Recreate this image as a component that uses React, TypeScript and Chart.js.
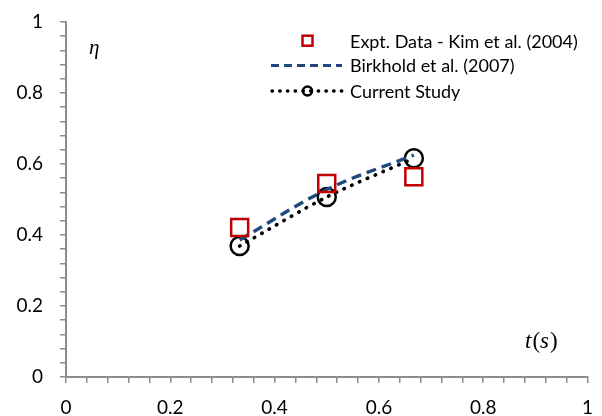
import React, { useEffect, useRef } from 'react';
import { Chart, registerables } from 'chart.js';

Chart.register(...registerables);

// ---- data ----
const timeValues = [0.333, 0.5, 0.667];
const exptEta = [0.421, 0.545, 0.564];
const birkholdEta = [0.386, 0.528, 0.625];
const currentEta = [0.369, 0.507, 0.616];
const seriesLabels = ['Expt. Data - Kim et al. (2004)', 'Birkhold et al. (2007)', 'Current Study'];
const axisMin = 0;
const axisMax = 1;
const majorStep = 0.2;
const minorStep = 0.04;
const yTitle = 'η';
const xTitleVar = 't';
const xTitleUnit = 's';

const RED = '#c00000';
const BLUE = '#1f497d';
const BLACK = '#000000';
const AXIS = '#8c8c8c';
const TICK_FONT = 'Lato, "Open Sans", sans-serif';

const minorTicks: number[] = [];
for (let i = 0; i <= Math.round((axisMax - axisMin) / minorStep); i++) {
  minorTicks.push(+(axisMin + i * minorStep).toFixed(4));
}

const isMajor = (v: number) => Math.abs(v / majorStep - Math.round(v / majorStep)) < 1e-6;
const fmt = (v: number) => String(+(Math.round(v / majorStep) * majorStep).toFixed(2));

const overlayPlugin = {
  id: 'overlay',
  afterDraw(chart: any) {
    const ctx: CanvasRenderingContext2D = chart.ctx;
    ctx.save();
    // axis titles
    ctx.fillStyle = BLACK;
    ctx.textBaseline = 'middle';
    ctx.textAlign = 'left';
    ctx.font = 'italic 21px "Liberation Serif", serif';
    ctx.fillText(yTitle, 89, 48);
    let x = 525;
    const ty = 342;
    ctx.font = 'italic 23px "Liberation Serif", serif';
    ctx.fillText(xTitleVar, x, ty);
    x += ctx.measureText(xTitleVar).width + 1;
    ctx.font = '23px "Liberation Serif", serif';
    ctx.fillText('(', x, ty);
    x += ctx.measureText('(').width;
    ctx.font = 'italic 23px "Liberation Serif", serif';
    ctx.fillText(xTitleUnit, x, ty);
    x += ctx.measureText(xTitleUnit).width + 1;
    ctx.font = '23px "Liberation Serif", serif';
    ctx.fillText(')', x, ty);

    // legend
    const rows = [40.7, 65.5, 91];
    const textX = 350;
    const sx0 = 271;
    const sx1 = 342;
    const mx = 307.5;
    // row 1: square
    ctx.strokeStyle = RED;
    ctx.lineWidth = 2.5;
    ctx.strokeRect(mx - 5, rows[0] - 5, 10, 10);
    // row 2: dashed
    ctx.strokeStyle = BLUE;
    ctx.lineWidth = 3;
    ctx.setLineDash([8, 5]);
    ctx.lineCap = 'butt';
    ctx.beginPath();
    ctx.moveTo(sx0, rows[1]);
    ctx.lineTo(sx1, rows[1]);
    ctx.stroke();
    // row 3: dotted with circle
    ctx.strokeStyle = BLACK;
    ctx.lineWidth = 3.3;
    ctx.setLineDash([0.5, 7.2]);
    ctx.lineCap = 'round';
    ctx.beginPath();
    ctx.moveTo(sx0 + 1, rows[2]);
    ctx.lineTo(sx1, rows[2]);
    ctx.stroke();
    ctx.setLineDash([]);
    ctx.lineWidth = 2.5;
    ctx.beginPath();
    ctx.arc(mx, rows[2], 4.5, 0, Math.PI * 2);
    ctx.stroke();
    // texts
    ctx.fillStyle = BLACK;
    ctx.font = '18px ' + TICK_FONT;
    ctx.textAlign = 'left';
    ctx.textBaseline = 'middle';
    seriesLabels.forEach((t, i) => ctx.fillText(t, textX, rows[i] + 1));
    ctx.restore();
  },
};

export default function App() {
  const ref = useRef<HTMLCanvasElement>(null);
  useEffect(() => {
    document.body.style.margin = '0';
    const canvas = ref.current!;
    const setTicks = (scale: any) => {
      scale.ticks = minorTicks.map((v) => ({ value: v }));
    };
    const chart = new Chart(canvas, {
      type: 'scatter',
      data: {
        datasets: [
          {
            label: seriesLabels[0],
            data: timeValues.map((t, i) => ({ x: t, y: exptEta[i] })),
            showLine: false,
            pointStyle: 'rect',
            pointRadius: 12,
            pointBorderWidth: 2.5,
            pointBorderColor: RED,
            pointBackgroundColor: 'rgba(0,0,0,0)',
            borderColor: RED,
            backgroundColor: 'rgba(0,0,0,0)',
          },
          {
            label: seriesLabels[1],
            data: timeValues.map((t, i) => ({ x: t, y: birkholdEta[i] })),
            showLine: true,
            tension: 0.35,
            borderColor: BLUE,
            borderWidth: 3.4,
            borderDash: [10, 6],
            pointRadius: 0,
            pointHoverRadius: 0,
          },
          {
            label: seriesLabels[2],
            data: timeValues.map((t, i) => ({ x: t, y: currentEta[i] })),
            showLine: true,
            tension: 0.3,
            borderColor: BLACK,
            borderWidth: 3.6,
            borderDash: [0.5, 8],
            borderCapStyle: 'round',
            pointStyle: 'circle',
            pointRadius: 9,
            pointBorderWidth: 2.5,
            pointBorderColor: BLACK,
            pointBackgroundColor: 'rgba(0,0,0,0)',
          },
        ],
      },
      options: {
        animation: false,
        responsive: false,
        maintainAspectRatio: false,
        layout: { padding: { top: 22, right: 14, left: 0, bottom: 0 } },
        plugins: {
          legend: { display: false },
          tooltip: { enabled: false },
        },
        scales: {
          x: {
            type: 'linear',
            min: axisMin,
            max: axisMax,
            afterBuildTicks: setTicks,
            afterFit: (s: any) => {
              s.height = 39;
              s.paddingLeft = 0;
              s.paddingRight = 0;
            },
            grid: { drawOnChartArea: false, drawTicks: true, tickLength: 6, color: AXIS, lineWidth: 1.5 },
            border: { display: true, color: AXIS, width: 2 },
            ticks: {
              autoSkip: false,
              maxRotation: 0,
              padding: 13,
              color: BLACK,
              font: { family: TICK_FONT, size: 19 },
              callback: (v: any) => (isMajor(Number(v)) ? fmt(Number(v)) : ''),
            },
          },
          y: {
            type: 'linear',
            min: axisMin,
            max: axisMax,
            afterBuildTicks: setTicks,
            afterFit: (s: any) => {
              s.width = 66;
              s.paddingTop = 0;
              s.paddingBottom = 0;
            },
            grid: { drawOnChartArea: false, drawTicks: true, tickLength: 6, color: AXIS, lineWidth: 1.5 },
            border: { display: true, color: AXIS, width: 2 },
            ticks: {
              autoSkip: false,
              padding: 17,
              color: BLACK,
              font: { family: TICK_FONT, size: 19 },
              callback: (v: any) => (isMajor(Number(v)) ? fmt(Number(v)) : ''),
            },
          },
        },
      },
      plugins: [overlayPlugin],
    } as any);
    return () => chart.destroy();
  }, []);
  return (
    <div style={{ width: 602, height: 416 }}>
      <canvas ref={ref} width={602} height={416} style={{ width: 602, height: 416, display: 'block' }} />
    </div>
  );
}
